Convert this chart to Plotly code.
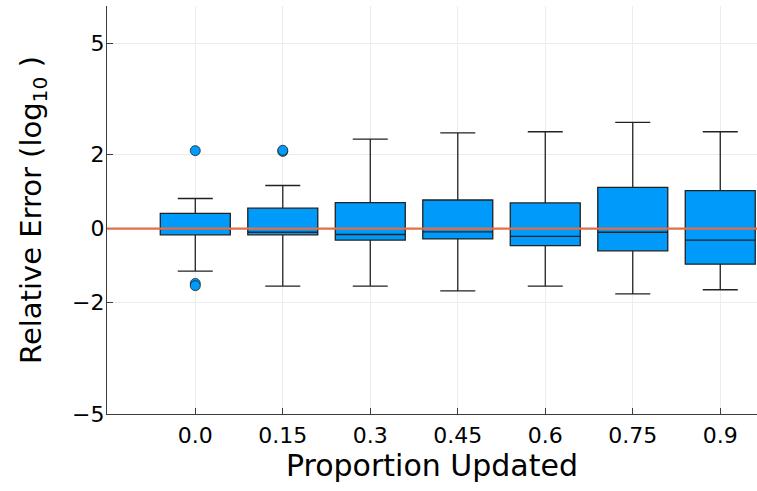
import plotly.graph_objects as go

# ---- data ----
categories = ["0.0", "0.15", "0.3", "0.45", "0.6", "0.75", "0.9"]
q1 = [-0.17, -0.17, -0.31, -0.28, -0.46, -0.60, -0.96]
median = [0.0, -0.10, -0.16, -0.09, -0.21, -0.10, -0.31]
q3 = [0.41, 0.55, 0.70, 0.77, 0.69, 1.11, 1.02]
lower_fence = [-1.15, -1.55, -1.55, -1.68, -1.55, -1.76, -1.65]
upper_fence = [0.81, 1.16, 2.41, 2.58, 2.61, 2.86, 2.61]

outlier_cat = ["0.0", "0.0", "0.0", "0.15", "0.15"]
outlier_val = [2.10, -1.48, -1.54, 2.08, 2.11]

reference_level = 0.0
y_ticks = [-5, -2, 0, 2, 5]
y_tick_text = ["\u22125", "\u22122", "0", "2", "5"]

BLUE = "#009AFA"
ORANGE = "#E26F46"
AXIS = "rgb(60,60,60)"
FONT = "DejaVu Sans"

fig = go.Figure()
fig.add_trace(go.Box(
    x=categories, q1=q1, median=median, q3=q3,
    lowerfence=lower_fence, upperfence=upper_fence,
    boxpoints=False, width=0.8, whiskerwidth=0.5,
    fillcolor=BLUE, line=dict(color="#222222", width=1.3),
    showlegend=False,
))
fig.add_trace(go.Scatter(
    x=outlier_cat, y=outlier_val, mode="markers",
    marker=dict(color=BLUE, size=10, line=dict(color="#222222", width=0.8)),
    showlegend=False,
))
fig.add_hline(y=reference_level, line=dict(color=ORANGE, width=2.2), layer="above")

fig.update_layout(
    width=757, height=491,
    margin=dict(l=107, r=0, t=6, b=77),
    paper_bgcolor="white", plot_bgcolor="white",
    font=dict(family=FONT, color="black"),
    showlegend=False,
)
fig.update_xaxes(
    type="category", range=[-1.009, 6.42],
    showline=True, linecolor=AXIS, linewidth=1.3,
    ticks="inside", ticklen=6, tickcolor=AXIS, tickwidth=1,
    showgrid=True, gridcolor="#ececec", gridwidth=1,
    tickfont=dict(size=22, family=FONT, color="black"),
    ticklabelstandoff=1,
    title=dict(text="Proportion Updated", font=dict(size=30, family=FONT, color="black"), standoff=8),
    zeroline=False,
)
fig.update_yaxes(
    range=[-5, 6.0], tickvals=y_ticks, ticktext=y_tick_text,
    showline=True, linecolor=AXIS, linewidth=1.3,
    ticks="inside", ticklen=6, tickcolor=AXIS, tickwidth=1,
    showgrid=True, gridcolor="#ececec", gridwidth=1,
    tickfont=dict(size=22, family=FONT, color="black"),
    ticklabelstandoff=-3,
    title=dict(text="Relative Error (log<sub>10</sub> )", font=dict(size=29, family=FONT, color="black"), standoff=21),
    zeroline=False,
)

fig.write_html("out.html")
